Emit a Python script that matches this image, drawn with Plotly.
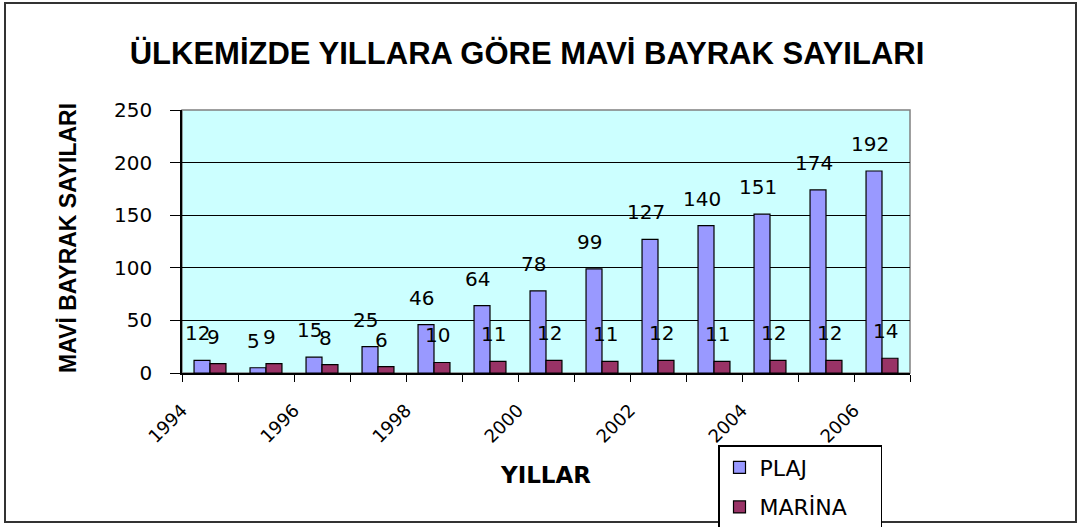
import plotly.graph_objects as go

years = [1994, 1995, 1996, 1997, 1998, 1999, 2000, 2001, 2002, 2003, 2004, 2005, 2006]
plaj = [12, 5, 15, 25, 46, 64, 78, 99, 127, 140, 151, 174, 192]
marina = [9, 9, 8, 6, 10, 11, 12, 11, 12, 11, 12, 12, 14]
tick_years = ["1994", "1996", "1998", "2000", "2002", "2004", "2006"]
y_ticks = [0, 50, 100, 150, 200, 250]

W, H = 1080, 527
L, R, T, B = 182, 910, 110, 373
pw, ph = R - L, B - T

def px_x(x):
    return (x - L) / pw

def px_y(y):
    return (B - y) / ph

idx = list(range(len(years)))
NB = "\u00a0"

fig = go.Figure()
fig.add_trace(go.Bar(x=idx, y=plaj, name="PLAJ", marker=dict(color="#9999FF", line=dict(color="black", width=1.2)),
                     legendgroup="a"))
fig.add_trace(go.Bar(x=idx, y=marina, name="MARİNA" + NB * 4,
                     marker=dict(color="#993366", line=dict(color="black", width=1.2)),
                     legendgroup="b"))

num_font = dict(family="DejaVu Sans", size=20, color="black")
ann = []
for i, (p, m) in enumerate(zip(plaj, marina)):
    ann.append(dict(x=i - 0.15, y=p, xref="x", yref="y", text=str(p), showarrow=False,
                    xanchor="center", yanchor="middle", yshift=27, xshift=-4, font=num_font))
    ann.append(dict(x=i + 0.14, y=m, xref="x", yref="y", text=str(m), showarrow=False,
                    xanchor="center", yanchor="middle", yshift=27, xshift=-4, font=num_font))

ann.append(dict(x=px_x(68), y=px_y(238), xref="paper", yref="paper", text="<b>MAVİ BAYRAK SAYILARI</b>",
                textangle=-90, showarrow=False, xanchor="center", yanchor="middle",
                font=dict(family="Liberation Sans", size=23, color="black")))
ann.append(dict(x=px_x(545), y=px_y(475), xref="paper", yref="paper", text="<b>YILLAR</b>",
                showarrow=False, xanchor="center", yanchor="middle",
                font=dict(family="DejaVu Sans", size=23, color="black")))

tick_pos = [years.index(int(t)) for t in tick_years]

fig.update_layout(
    width=W, height=H,
    margin=dict(l=L, r=W - R, t=T, b=H - B, autoexpand=False),
    paper_bgcolor="white",
    plot_bgcolor="#CCFFFF",
    barmode="group",
    bargap=0.43,
    bargroupgap=0,
    title=dict(text="<b>ÜLKEMİZDE YILLARA GÖRE MAVİ BAYRAK SAYILARI</b>", x=527 / W, y=1 - 53 / H,
               xanchor="center", yanchor="middle", xref="container", yref="container",
               font=dict(family="Liberation Sans", size=31, color="black")),
    xaxis=dict(range=[-0.5, len(years) - 0.5], tickmode="array",
               tickvals=[p - 0.5 for p in tick_pos], ticktext=tick_years,
               tickangle=-45, ticks="", ticklabelstandoff=18,
               tickfont=dict(family="DejaVu Sans", size=18, color="black"),
               showgrid=False, showline=True, linecolor="black", linewidth=1.5, zeroline=False,
               minor=dict(tickmode="array", tickvals=[i - 0.5 for i in range(len(years) + 1)],
                          ticks="outside", ticklen=7, tickcolor="black", showgrid=False)),
    yaxis=dict(range=[0, 250], tickmode="array", tickvals=y_ticks, ticks="outside", ticklen=10,
               tickcolor="black", ticklabelstandoff=14,
               tickfont=dict(family="DejaVu Sans", size=20, color="black"),
               showgrid=True, gridcolor="black", gridwidth=1, showline=True, linecolor="black",
               linewidth=1.5, zeroline=False),
    legend=dict(x=px_x(718), y=px_y(445), xanchor="left", yanchor="top", bordercolor="black", borderwidth=1.5,
                bgcolor="white", font=dict(family="DejaVu Sans", size=22, color="black"),
                traceorder="grouped", tracegroupgap=8),
    annotations=ann,
    shapes=[
        dict(type="rect", xref="paper", yref="paper", x0=0, y0=0, x1=1, y1=1,
             line=dict(color="#808080", width=1.5), layer="below"),
        dict(type="rect", xref="paper", yref="paper", x0=px_x(5), y0=px_y(3), x1=px_x(1076), y1=px_y(522),
             line=dict(color="#333333", width=2), layer="below"),
    ],
)

fig.write_html("out.html", config={"displayModeBar": False},
               post_script="document.body.style.margin='0';document.body.style.padding='0';")
